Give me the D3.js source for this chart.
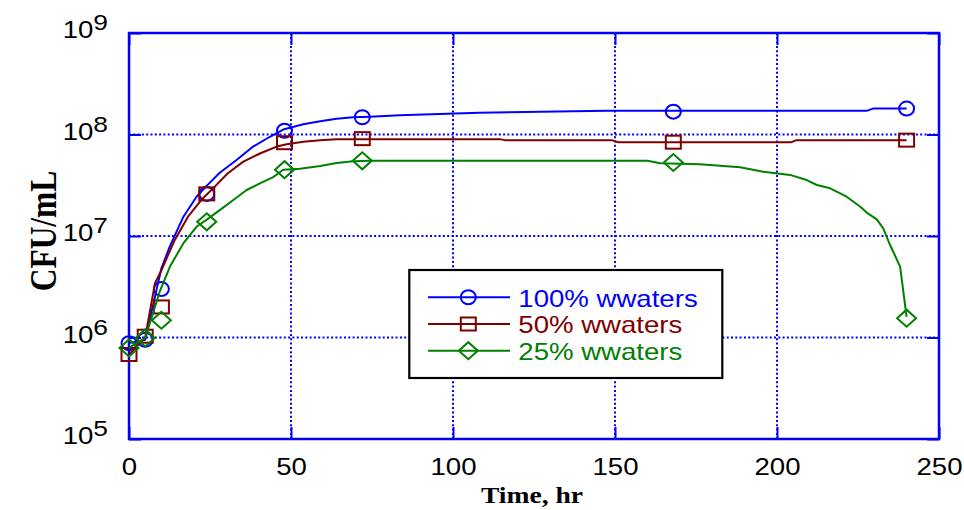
<!DOCTYPE html>
<html><head><meta charset="utf-8">
<script src="https://cdn.jsdelivr.net/npm/d3@7"></script>
<style>body{margin:0;background:#fff}</style>
</head><body><svg id="c" width="964" height="510"></svg>
<script>
// ---------- data ----------
const markerTimes = [0, 5, 10, 24, 48, 72, 168, 240];
const markers100 = [8.8e5, 9.5e5, 3.0e6, 2.6e7, 1.09e8, 1.48e8, 1.68e8, 1.8e8];
const markers50  = [6.8e5, 1.03e6, 2.0e6, 2.6e7, 8.3e7, 9.1e7, 8.4e7, 8.8e7];
const markers25  = [7.9e5, 9.9e5, 1.48e6, 1.38e7, 4.5e7, 5.5e7, 5.3e7, 1.55e6];

const curveTimes100  = [0, 5, 10, 12.6, 16.8, 20.9, 23.9, 28, 33.2, 38.3, 43.5, 47.6, 53.8, 59, 64.1, 69.2, 74.4, 83.6, 108, 147.5, 227.7, 229.6, 240];
const curveValues100 = [8.8e5, 9.5e5, 4.8e6, 7.9e6, 1.55e7, 2.45e7, 3.1e7, 4.2e7, 5.6e7, 7.6e7, 9.5e7, 1.12e8, 1.26e8, 1.35e8, 1.43e8, 1.48e8, 1.5e8, 1.55e8, 1.64e8, 1.71e8, 1.71e8, 1.8e8, 1.8e8];

const curveTimes50  = [0, 5, 8, 10, 14.1, 18.2, 22.3, 26.4, 30.5, 35.3, 40.4, 45.6, 48.7, 53.8, 59, 64, 114.5, 116, 149, 151, 204.5, 206, 240];
const curveValues50 = [6.8e5, 1.0e6, 3.4e6, 4.6e6, 9.1e6, 1.55e7, 2.26e7, 3.05e7, 4.15e7, 5.4e7, 6.5e7, 7.6e7, 8.0e7, 8.5e7, 8.8e7, 9.0e7, 9.0e7, 8.8e7, 8.8e7, 8.4e7, 8.4e7, 8.8e7, 8.8e7];

const curveTimes25  = [0, 5, 9.6, 12.65, 16.8, 20.9, 23.9, 28, 32.2, 36.3, 40.4, 44.5, 47.6, 52.8, 59, 64.1, 69.2, 74.4, 160, 164, 176.2, 188.6, 195.8, 204, 209.2, 212.3, 216.4, 221.5, 225.6, 227.7, 230.8, 232.8, 234.9, 238, 240];
const curveValues25 = [7.9e5, 9.9e5, 2.9e6, 5.0e6, 8.5e6, 1.24e7, 1.44e7, 1.8e7, 2.26e7, 2.84e7, 3.3e7, 3.8e7, 4.5e7, 4.6e7, 4.9e7, 5.25e7, 5.45e7, 5.5e7, 5.5e7, 5.2e7, 5.1e7, 4.75e7, 4.3e7, 4.0e7, 3.56e7, 3.18e7, 2.95e7, 2.44e7, 1.95e7, 1.7e7, 1.46e7, 1.19e7, 8.15e6, 5.0e6, 1.6e6];

const xTicks = [0, 50, 100, 150, 200, 250];
const yTicks = [1e5, 1e6, 1e7, 1e8, 1e9];
const seriesNames = ["100% wwaters", "50% wwaters", "25% wwaters"];
const xTitle = "Time, hr";
const yTitle = "CFU/mL";

// ---------- styles ----------
const colors = ["#0000ff", "#800000", "#008000"];
const shapes = ["circle", "square", "diamond"];
const axisBlue = "#0000ff";
const SX = 1.2; // horizontal text stretch
const sans = "'Liberation Sans', Arial, sans-serif";
const serif = "'Liberation Serif', 'Times New Roman', serif";

const svg = d3.select("#c");
const x = d3.scaleLinear().domain([0, 250]).range([129, 939]);
const y = d3.scaleLog().domain([1e5, 1e9]).range([439, 33]);

// grid
const grid = svg.append("g").attr("stroke", axisBlue).attr("stroke-width", 2).attr("stroke-dasharray", "2,2.3");
grid.selectAll(".gx").data(xTicks.slice(1, -1)).join("line")
  .attr("x1", d => x(d)).attr("x2", d => x(d)).attr("y1", y(1e9)).attr("y2", y(1e5));
grid.selectAll(".gy").data(yTicks.slice(1, -1)).join("line")
  .attr("y1", d => y(d)).attr("y2", d => y(d)).attr("x1", x(0)).attr("x2", x(250));

// axes
function styleAxis(g) {
  g.select(".domain").remove();
  g.selectAll(".tick line").attr("stroke", axisBlue).attr("stroke-width", 2);
  g.selectAll("text").attr("fill", "#000").attr("font-family", sans).attr("font-size", 23);
}
const gB = svg.append("g").attr("transform", `translate(0,${y(1e5)})`)
  .call(d3.axisBottom(x).tickValues(xTicks).tickSize(-12).tickSizeOuter(0).tickPadding(19.5)).call(styleAxis);
gB.selectAll("text").attr("transform", `scale(${SX},1)`);
svg.append("g").attr("transform", `translate(0,${y(1e9)})`)
  .call(d3.axisTop(x).tickValues(xTicks).tickSize(-12).tickSizeOuter(0).tickFormat("")).call(styleAxis);
svg.append("g").attr("transform", `translate(${x(250)},0)`)
  .call(d3.axisRight(y).tickValues(yTicks).tickSize(-12).tickSizeOuter(0).tickFormat("")).call(styleAxis);
const gL = svg.append("g").attr("transform", `translate(${x(0)},0)`)
  .call(d3.axisLeft(y).tickValues(yTicks).tickSize(-12).tickSizeOuter(0).tickPadding(17.5)).call(styleAxis);
gL.selectAll(".tick text").each(function(d) {
  const t = d3.select(this);
  t.text(null).attr("dy", null).attr("y", 4.5).attr("transform", `scale(${SX},1)`);
  t.append("tspan").text("10");
  t.append("tspan").attr("dy", -8).attr("font-size", 22).text(Math.round(Math.log10(d)));
});

// box
svg.append("rect").attr("x", x(0)).attr("y", y(1e9)).attr("width", x(250) - x(0)).attr("height", y(1e5) - y(1e9))
  .attr("fill", "none").attr("stroke", axisBlue).attr("stroke-width", 2.5);

// markers
function drawMarker(g, shape, color) {
  if (shape === "circle") g.append("ellipse").attr("rx", 7.5).attr("ry", 7);
  else if (shape === "square") g.append("rect").attr("x", -7.5).attr("y", -6.5).attr("width", 15).attr("height", 13);
  else g.append("path").attr("d", "M-9.5,0L0,-8.5L9.5,0L0,8.5Z");
  g.selectAll("*").attr("fill", "none").attr("stroke", color).attr("stroke-width", 2);
}

const curves = [
  [curveTimes100, curveValues100, markers100],
  [curveTimes50, curveValues50, markers50],
  [curveTimes25, curveValues25, markers25]
];
const line = d3.line().x(d => x(d[0])).y(d => y(d[1]));
curves.forEach(([ts, vs, ms], i) => {
  const pts = ts.map((t, j) => [t, vs[j]]);
  svg.append("path").attr("d", line(pts)).attr("fill", "none").attr("stroke", colors[i]).attr("stroke-width", 2)
    .attr("stroke-linejoin", "round");
  markerTimes.forEach((t, j) => {
    const g = svg.append("g").attr("transform", `translate(${x(t)},${y(ms[j])})`);
    drawMarker(g, shapes[i], colors[i]);
  });
});

// legend
const lg = svg.append("g");
lg.append("rect").attr("x", 409.3).attr("y", 270).attr("width", 313).attr("height", 108)
  .attr("fill", "#fff").attr("stroke", "#000").attr("stroke-width", 2.2);
seriesNames.forEach((name, i) => {
  const ly = 297.3 + i * 26.7;
  lg.append("line").attr("x1", 428).attr("x2", 510).attr("y1", ly).attr("y2", ly)
    .attr("stroke", colors[i]).attr("stroke-width", 2);
  drawMarker(lg.append("g").attr("transform", `translate(468.3,${ly})`), shapes[i], colors[i]);
  lg.append("text").attr("transform", `translate(518.3,${ly + 9.4}) scale(${SX},1)`)
    .attr("font-family", sans).attr("font-size", 23).attr("fill", colors[i]).text(name);
});

// titles
svg.append("text").attr("transform", `translate(532,503) scale(${SX},1)`).attr("text-anchor", "middle")
  .attr("font-family", serif).attr("font-weight", "bold").attr("font-size", 23).text(xTitle);
svg.append("text").attr("transform", `translate(56,231) scale(${SX},1) rotate(-90)`).attr("text-anchor", "middle")
  .attr("font-family", serif).attr("font-weight", "bold").attr("font-size", 31.5).text(yTitle);
</script>
</body></html>
